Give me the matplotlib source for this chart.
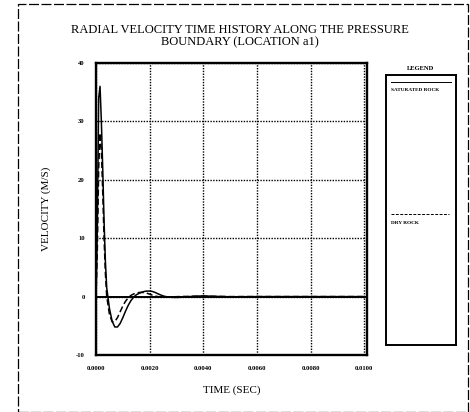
import matplotlib
matplotlib.use("Agg")
import matplotlib.pyplot as plt
from matplotlib.patches import Rectangle

# ---- data ----
time_sat = [0.0, 0.00005, 0.0001, 0.00015, 0.0002, 0.00025, 0.0003, 0.00035, 0.0004,
            0.0005, 0.0006, 0.0007, 0.0008, 0.0009, 0.0010, 0.0011, 0.0012, 0.0013,
            0.0014, 0.0015, 0.0016, 0.0017, 0.0018, 0.0019, 0.0020, 0.0021, 0.0022,
            0.0023, 0.0024, 0.0025, 0.0026, 0.0028, 0.0030, 0.0033, 0.0036, 0.0040,
            0.0044, 0.0050, 0.0060, 0.0070, 0.0080, 0.0090, 0.0100]
vel_sat = [0.0, 12.0, 34.0, 36.0, 30.0, 22.0, 13.0, 6.0, 1.5,
           -2.0, -4.2, -5.2, -5.2, -4.6, -3.6, -2.5, -1.5, -0.7,
           -0.1, 0.3, 0.55, 0.75, 0.88, 0.95, 0.95, 0.88, 0.72,
           0.5, 0.3, 0.12, 0.0, -0.12, -0.15, -0.08, 0.05, 0.12,
           0.05, -0.03, 0.0, 0.0, 0.0, 0.0, 0.0]

time_dry = [0.0, 0.00005, 0.0001, 0.00015, 0.0002, 0.00025, 0.0003, 0.00035, 0.0004,
            0.0005, 0.0006, 0.0007, 0.0008, 0.0009, 0.0010, 0.0011, 0.0012, 0.0013,
            0.0014, 0.0015, 0.0016, 0.0017, 0.0018, 0.0019, 0.0020, 0.0021, 0.0022,
            0.0023, 0.0025, 0.0028, 0.0032, 0.0040, 0.0050, 0.0070, 0.0100]
vel_dry = [0.0, 8.0, 22.0, 28.0, 25.0, 18.0, 10.0, 4.0, 0.0,
           -3.0, -4.3, -4.3, -3.6, -2.6, -1.6, -0.8, -0.2, 0.2,
           0.45, 0.6, 0.7, 0.72, 0.68, 0.58, 0.42, 0.25, 0.1,
           0.0, -0.08, -0.05, 0.02, 0.06, 0.0, 0.0, 0.0]

x_ticks = [0.0, 0.002, 0.004, 0.006, 0.008, 0.010]
x_tick_labels = ["0.0000", "0.0020", "0.0040", "0.0060", "0.0080", "0.0100"]
y_ticks = [-10, 0, 10, 20, 30, 40]
y_tick_labels = ["-10", "0", "10", "20", "30", "40"]
series_names = ["SATURATED ROCK", "DRY ROCK"]

plt.rcParams['font.family'] = ['Liberation Serif', 'DejaVu Serif']

fig = plt.figure(figsize=(4.70, 4.12), dpi=100)
fig.patch.set_facecolor("white")

# outer frame
fig.patches.append(Rectangle((18/470, 0.0), 1 - 18/470 - 2/470, 1 - 4/412,
                             transform=fig.transFigure, fill=False,
                             edgecolor="black", lw=0.9, linestyle=(0, (8, 2))))

ax = fig.add_axes([96/470, 1 - 355/412, 271/470, 292/412])
ax.plot(time_sat, vel_sat, color="black", lw=1.1, linestyle="-")
ax.plot(time_dry, vel_dry, color="black", lw=1.1, linestyle=(0, (4, 2)))
ax.axhline(0, color="black", lw=1.4)
ax.set_xlim(0, 0.0101)
ax.set_ylim(-10, 40)
ax.set_xticks(x_ticks)
ax.set_xticklabels(x_tick_labels, fontsize=4.8, fontweight="bold")
ax.set_yticks(y_ticks)
ax.set_yticklabels(y_tick_labels, fontsize=4.8, fontweight="bold")
ax.tick_params(length=0, pad=8)
ax.grid(True, color="black", linestyle=(0, (1, 1)), lw=1.0)
for s in ax.spines.values():
    s.set_linewidth(1.7)
ax.set_xlabel("TIME (SEC)", fontsize=8, labelpad=10)
ax.set_ylabel("VELOCITY (M/S)", fontsize=8, labelpad=18)

fig.text(240/470, 1 - 30/412, "RADIAL VELOCITY TIME HISTORY ALONG THE PRESSURE",
         ha="center", va="center", fontsize=9)
fig.text(240/470, 1 - 42/412, "BOUNDARY (LOCATION a1)",
         ha="center", va="center", fontsize=9)

# legend box
lax = fig.add_axes([386/470, 1 - 345/412, 70/470, 270/412])
lax.set_xlim(0, 1)
lax.set_ylim(0, 1)
lax.set_xticks([])
lax.set_yticks([])
for s in lax.spines.values():
    s.set_linewidth(1.4)
fig.text(421/470, 1 - 68/412, "LEGEND", ha="center", va="center",
         fontsize=4.8, fontweight="bold")
lax.plot([0.07, 0.93], [0.975, 0.975], color="black", lw=0.7, linestyle="-")
lax.text(0.07, 0.945, series_names[0], fontsize=3.8, va="center", ha="left",
         fontweight="bold")
lax.plot([0.07, 0.90], [0.485, 0.485], color="black", lw=0.7, linestyle=(0, (3, 1.5)))
lax.text(0.07, 0.45, series_names[1], fontsize=3.8, va="center", ha="left",
         fontweight="bold")

fig.savefig("out.png", dpi=100)
